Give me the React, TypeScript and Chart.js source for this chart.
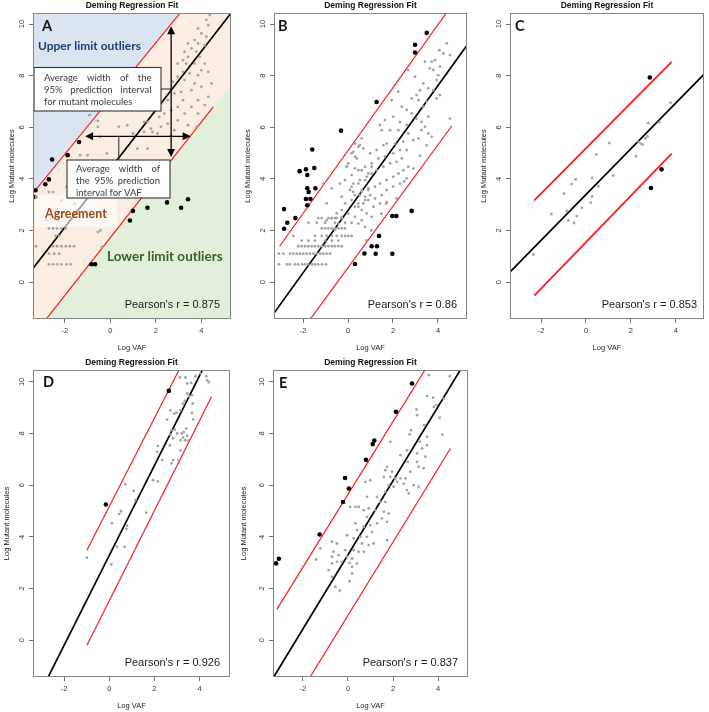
import React, { useEffect, useRef } from 'react';
import { Chart, registerables } from 'chart.js';
Chart.register(...registerables);

type Pt = [number, number];

const xTicks = [-2, 0, 2, 4];
const yTicks = [0, 2, 4, 6, 8, 10];
const chartTitle = 'Deming Regression Fit';
const xLabel = 'Log VAF';
const yLabel = 'Log Mutant molecules';

// ---------- Panel A ----------
const aGrey: Pt[] = [
  [-2.7, 0.69], [-2.52, 0.69], [-2.34, 0.69], [-2.15, 0.69], [-1.93, 0.69], [-1.74, 0.69],
  [-2.7, 1.1], [-2.47, 1.1], [-2.25, 1.1],
  [-3.27, 1.39], [-2.52, 1.39], [-2.34, 1.39], [-2.15, 1.39], [-1.96, 1.39], [-1.78, 1.39], [-1.6, 1.39],
  [-2.4, 1.79], [-2.25, 1.79],
  [-2.7, 2.08], [-2.52, 2.08], [-2.34, 2.08], [-2.15, 2.08], [-1.97, 2.08],
  [-2.81, 2.4], [-2.3, 2.4], [-2.56, 2.77], [-2.38, 2.77], [-2.7, 3.49], [-2.52, 3.49],
  [-1.33, 4.92], [-1.0, 4.92], [-0.81, 3.75], [-0.59, 4.59], [-0.44, 5.63], [-0.15, 4.98], [-0.55, 6.02],
  [-0.55, 6.25], [-0.92, 6.47], [0.15, 4.2], [0.74, 6.08], [1.0, 5.76], [1.19, 5.17], [1.48, 6.21],
  [1.63, 5.17], [1.85, 5.82], [-1.19, 4.14], [-1.04, 3.3], [-1.56, 3.04], [-0.44, 2.0], [-0.55, 1.94],
  [-0.37, 1.36], [-1.93, 3.69], [-2.15, 3.17], [-1.19, 3.69],
  [4.37, 10.35], [4.22, 10.16], [4.3, 9.96], [3.85, 9.83], [4.0, 9.64], [4.22, 9.51], [3.7, 9.38],
  [3.41, 9.25], [3.85, 9.25], [4.15, 9.18], [3.56, 9.06], [3.26, 8.93], [3.78, 8.93], [3.93, 8.73],
  [3.41, 8.73], [3.19, 8.6], [2.96, 8.47], [3.33, 8.47], [3.7, 8.47], [4.15, 8.47], [4.0, 8.21],
  [4.3, 8.15], [3.85, 8.02], [3.48, 8.09], [3.19, 8.15], [2.96, 7.96], [3.26, 7.83], [2.74, 7.76],
  [3.7, 7.7], [4.0, 7.57], [4.44, 7.7], [3.56, 7.44], [3.11, 7.37], [2.81, 7.31], [2.52, 7.05],
  [3.19, 7.05], [3.85, 7.05], [3.56, 6.79], [4.15, 6.86], [4.3, 7.18], [2.96, 6.79], [2.67, 6.66],
  [2.37, 6.53], [3.26, 6.53], [3.85, 6.53], [2.15, 6.4], [2.96, 6.27], [2.52, 6.14], [2.22, 6.02],
  [1.78, 5.95], [3.41, 6.08], [2.81, 5.89], [3.78, 6.02], [1.48, 5.82], [2.07, 5.76], [2.67, 5.69],
  [0.37, 6.02], [1.63, 6.21], [1.33, 6.66],
];
const aBlack: Pt[] = [
  [-3.29, 3.56], [-3.29, 3.3], [-2.86, 3.79], [-2.7, 3.98], [-2.56, 4.75], [-1.88, 4.92], [-1.38, 5.43],
  [-0.84, 0.69], [-0.67, 0.69], [0.86, 2.39], [0.99, 2.76], [1.63, 2.88], [2.49, 3.09], [3.11, 2.88], [3.41, 3.21],
];
const aFit: Pt[] = [[-4, -0.15], [6, 11.22]];
const aUpper: Pt[] = [[-4, 2.8], [4, 11.44]];
const aLower: Pt[] = [[-2.95, -1.58], [4.52, 6.79]];
const aBandUpper: Pt[] = [[-4, 2.8], [6, 13.6]];
const aBandLower: Pt[] = [[-4, -2.75], [6, 8.45]];
const aArrowV: Pt[] = [[2.67, 4.85], [2.67, 9.92]];
const aArrowH: Pt[] = [[-1.11, 5.65], [3.53, 5.65]];
const aConnectorX = 0.37;

// ---------- Panel B ----------
const bGrey: Pt[] = [
  [-3.07, 0.69], [-2.71, 0.69], [-2.58, 0.69], [-2.36, 0.69], [-2.22, 0.69], [-2.04, 0.69], [-1.91, 0.69],
  [-1.78, 0.69], [-1.6, 0.69], [-1.47, 0.69], [-1.33, 0.69], [-1.16, 0.69], [-0.98, 0.69],
  [-3.07, 1.1], [-2.87, 1.1], [-2.58, 1.1], [-2.43, 1.1], [-2.28, 1.1], [-2.13, 1.1], [-1.99, 1.1], [-1.84, 1.1],
  [-1.69, 1.1], [-1.54, 1.1], [-1.39, 1.1], [-1.24, 1.1], [-1.1, 1.1], [-0.95, 1.1], [-0.8, 1.1],
  [-2.21, 1.39], [-2.06, 1.39], [-1.91, 1.39], [-1.76, 1.39], [-1.61, 1.39], [-1.47, 1.39], [-1.32, 1.39],
  [-1.17, 1.39], [-1.02, 1.39], [-0.87, 1.39], [-0.72, 1.39], [-0.58, 1.39], [-0.43, 1.39], [-0.28, 1.39],
  [-2.06, 1.61], [-1.76, 1.61], [-1.47, 1.61], [-1.02, 1.61], [-0.72, 1.61], [-0.43, 1.61],
  [-2.43, 1.79], [-1.47, 1.79], [-1.17, 1.79], [-0.95, 1.79], [-0.72, 1.79], [-0.5, 1.79], [-0.28, 1.79],
  [-0.13, 1.79], [0.01, 1.79], [0.16, 1.79],
  [-1.17, 2.08], [-1.02, 2.08], [-0.87, 2.08], [-0.72, 2.08], [-0.58, 2.08], [-0.43, 2.08], [-0.28, 2.08], [-0.13, 2.08],
  [-1.76, 2.3], [-1.39, 2.3], [-1.02, 2.3], [-0.58, 2.3], [-0.13, 2.3], [0.16, 2.3],
  [-1.32, 2.48], [-1.17, 2.48], [-0.87, 2.48], [-0.72, 2.48], [-0.58, 2.48], [-0.5, 2.48], [-0.28, 2.48],
  [0.31, 5.37], [0.53, 5.31], [0.68, 5.18], [0.16, 4.99], [0.39, 4.79], [0.01, 4.6], [-0.06, 4.47],
  [0.31, 4.41], [0.61, 4.34], [0.9, 4.21], [1.05, 4.47], [0.76, 3.95], [0.46, 3.82], [0.16, 3.7],
  [0.24, 3.5], [0.61, 3.57], [0.9, 3.63], [0.98, 3.37], [0.76, 3.18], [0.46, 3.05], [0.31, 2.92],
  [0.16, 3.18], [-0.13, 3.05], [-0.28, 2.79], [0.01, 2.66], [0.31, 2.53], [0.61, 2.79], [0.83, 2.66],
  [1.05, 2.53], [0.61, 2.4], [0.46, 2.27], [0.76, 2.14], [-0.28, 2.53], [-0.43, 2.27], [-0.58, 2.02],
  [-0.95, 3.05], [-0.73, 3.63], [-0.28, 3.31], [-1.1, 3.82], [-0.36, 3.82], [-0.13, 3.95], [-0.5, 2.66],
  [-0.73, 2.47], [-0.95, 2.4],
  [4.39, 9.25], [4.06, 8.99], [4.24, 8.86], [4.53, 8.8], [3.72, 8.54], [3.87, 8.6], [3.42, 8.54],
  [3.64, 8.28], [3.79, 8.22], [4.09, 8.35], [4.01, 8.02], [3.94, 7.83], [3.35, 7.7], [3.57, 7.51],
  [3.2, 7.44], [3.05, 7.25], [3.79, 7.44], [4.09, 7.25], [3.94, 7.12], [3.5, 6.99], [3.35, 6.8],
  [3.13, 7.05], [2.83, 7.12], [2.68, 8.22], [2.98, 7.96], [2.24, 7.38], [1.94, 7.05], [2.39, 6.8],
  [2.61, 6.67], [2.83, 6.54], [3.05, 6.34], [3.27, 6.21], [3.57, 6.41], [4.53, 6.34], [3.42, 6.02],
  [3.27, 5.89], [3.57, 5.76], [3.72, 5.63], [3.13, 5.57], [2.9, 5.5], [2.61, 6.09], [2.31, 6.21],
  [2.01, 6.41], [1.64, 6.28], [1.42, 6.09], [1.5, 5.89], [1.87, 5.89], [2.24, 5.89], [2.68, 5.76],
  [2.46, 5.44], [2.09, 5.37], [1.72, 5.37], [1.57, 5.31], [1.27, 5.12], [0.98, 4.99], [0.61, 5.57],
  [0.46, 5.25], [0.24, 5.05], [0.31, 4.86], [-0.06, 4.47], [0.16, 4.15], [0.46, 4.34], [0.76, 4.47],
  [1.05, 4.6], [1.35, 4.79], [1.64, 4.86], [2.01, 4.99], [2.31, 5.12], [2.61, 5.12], [2.39, 4.79],
  [2.16, 4.66], [1.87, 4.6], [1.57, 4.47], [1.27, 4.34], [1.05, 4.21], [0.83, 4.08], [0.53, 3.95],
  [0.24, 3.82], [0.09, 3.57], [0.31, 3.37], [0.61, 3.5], [0.9, 3.57], [1.2, 3.7], [1.42, 3.82],
  [1.72, 3.95], [2.01, 4.08], [2.24, 4.21], [2.46, 4.34], [2.68, 4.47], [2.61, 4.02], [2.31, 3.82],
  [2.01, 3.7], [1.72, 3.57], [1.5, 3.37], [1.2, 3.24], [0.9, 3.18], [0.68, 3.05], [0.46, 2.92],
  [1.13, 2.92], [1.42, 3.05], [1.72, 3.11], [2.16, 3.24], [0.76, 3.31], [0.53, 3.37],
  [0.81, 1.62], [1.04, 2.0], [1.48, 2.65], [1.7, 3.04], [2.5, 3.9], [2.9, 4.4], [3.2, 4.9], [3.5, 5.3],
];
const bBlack: Pt[] = [
  [-2.84, 2.83], [-2.84, 2.07], [-2.7, 2.3], [-2.34, 2.48], [-2.15, 4.3], [-1.87, 4.37], [-1.81, 4.15],
  [-1.81, 3.64], [-1.75, 3.49], [-1.87, 3.22], [-1.67, 3.22], [-1.81, 2.98], [-1.59, 5.14], [-1.5, 4.42],
  [-1.45, 3.64], [-0.31, 5.87], [1.27, 6.98], [2.98, 9.2], [2.98, 8.9], [3.5, 9.66],
  [0.31, 0.7], [0.73, 1.11], [1.05, 1.39], [1.29, 1.39], [1.23, 1.1], [1.38, 1.79], [1.97, 2.56],
  [2.15, 2.56], [1.97, 1.1], [2.83, 2.76],
];
const bFit: Pt[] = [[-4, -2.06], [6, 10.04]];
const bUpper: Pt[] = [[-3.04, 1.39], [5, 11.2]];
const bLower: Pt[] = [[-2, -1.82], [4.62, 6.06]];

// ---------- Panel C ----------
const cGrey: Pt[] = [
  [-2.34, 1.07], [-1.54, 2.64], [-0.98, 3.43], [-0.86, 2.76], [-0.79, 2.39], [-0.64, 3.8], [-0.53, 2.29],
  [-0.46, 3.98], [-0.41, 2.56], [-0.18, 2.88], [0.21, 3.08], [0.27, 3.32], [0.27, 4.04], [0.46, 4.94],
  [0.55, 3.71], [1.04, 5.39], [1.21, 4.13], [2.22, 4.88], [2.34, 5.43], [2.44, 5.37], [2.52, 5.33],
  [2.65, 5.58], [2.74, 5.65], [2.77, 6.16], [3.26, 6.2], [3.76, 6.95],
];
const cBlack: Pt[] = [[2.84, 7.93], [2.89, 3.65], [3.36, 4.37]];
const cFit: Pt[] = [[-4, -0.16], [6, 8.72]];
const cUpper: Pt[] = [[-2.3, 3.17], [3.81, 8.54]];
const cLower: Pt[] = [[-2.3, -0.52], [3.81, 4.98]];

// ---------- Panel D ----------
const dGrey: Pt[] = [
  [-0.99, 3.19], [0.09, 2.93], [0.34, 3.61], [0.68, 3.61], [0.12, 4.52], [0.44, 4.88], [0.52, 4.99],
  [0.71, 6.03], [0.76, 4.3], [0.79, 4.43], [1.08, 5.78], [1.16, 5.42], [1.64, 4.94], [1.94, 6.19],
  [2.15, 6.15], [2.15, 7.52], [2.12, 7.29], [2.34, 6.97], [2.56, 8.54], [2.71, 8.9], [2.76, 8.13],
  [2.83, 7.81], [2.83, 6.97], [2.89, 8.77], [2.98, 8.81], [3.16, 8.9], [3.27, 9.16], [3.35, 9.26],
  [3.45, 9.55], [3.53, 9.45], [3.63, 9.96], [3.45, 9.94], [3.13, 10.17], [3.38, 10.17], [3.82, 10.22],
  [4.04, 10.32], [4.3, 10.22], [4.41, 9.99], [4.34, 10.06], [3.16, 7.35], [3.21, 8.0], [3.27, 7.85],
  [3.3, 8.06], [3.36, 7.74], [3.41, 8.19], [3.45, 7.91], [3.5, 7.72], [3.72, 8.54], [3.66, 8.8],
  [3.16, 7.74], [3.08, 6.97], [2.76, 6.84], [2.9, 8.15], [3.66, 9.48], [3.7, 9.16], [3.01, 8.0],
  [2.71, 7.96], [2.68, 7.54],
];
const dBlack: Pt[] = [[-0.15, 5.25], [2.64, 9.65]];
const dFit: Pt[] = [[-3, -1.94], [5, 11.98]];
const dUpper: Pt[] = [[-0.99, 3.48], [3.3, 10.82]];
const dLower: Pt[] = [[-0.99, -0.2], [4.53, 9.42]];

// ---------- Panel E ----------
const eGrey: Pt[] = [
  [3.59, 10.26], [4.52, 10.22], [3.51, 9.45], [3.78, 9.39], [4.25, 9.35], [3.93, 9.1], [3.81, 9.03],
  [3.04, 8.93], [3.07, 8.71], [4.07, 8.61], [3.39, 8.32], [2.8, 8.13], [2.74, 7.97], [4.19, 7.96],
  [3.51, 7.87], [3.19, 7.68], [1.88, 7.68], [3.51, 7.55], [2.62, 7.35], [3.29, 7.42], [3.07, 7.23],
  [2.33, 7.16], [3.44, 7.1], [2.65, 6.9], [3.07, 6.9], [3.14, 6.71], [2.77, 6.52], [3.36, 6.65],
  [1.73, 6.71], [1.66, 6.58], [1.96, 6.52], [0.99, 6.19], [1.59, 6.32], [1.88, 6.32], [2.1, 6.26],
  [2.33, 6.26], [2.55, 6.26], [2.18, 6.13], [2.92, 6.0], [3.14, 5.94], [2.47, 6.06], [2.62, 5.81],
  [2.7, 5.68], [0.77, 6.13], [0.84, 5.55], [1.29, 5.55], [1.66, 5.74], [1.81, 6.0], [2.03, 5.94],
  [1.44, 5.35], [1.66, 5.35], [0.1, 5.16], [0.33, 5.16], [0.47, 5.16], [0.92, 5.1], [1.21, 5.03],
  [1.59, 4.97], [1.81, 4.9], [1.51, 4.71], [1.73, 4.58], [0.84, 4.77], [0.7, 5.03], [0.33, 4.52],
  [0.4, 4.26], [0.25, 3.94], [0.7, 4.39], [0.99, 4.45], [1.29, 4.52], [1.07, 4.19], [0.84, 4.0],
  [0.55, 4.0], [-0.04, 4.06], [0.62, 3.74], [0.92, 3.68], [1.14, 3.74], [0.25, 3.48], [0.47, 3.42],
  [0.7, 3.42], [0.18, 3.16], [-0.12, 3.48], [-0.49, 3.74], [-0.71, 3.81], [-0.64, 3.42], [-0.41, 3.29],
  [-0.27, 3.03], [-0.04, 3.23], [-1.23, 3.55], [-0.71, 3.23], [-0.49, 3.03], [-0.71, 2.97], [0.4, 2.97],
  [0.18, 2.84], [1.73, 3.87], [0.07, 2.99], [-1.41, 3.12], [-0.56, 2.06], [-0.37, 1.91], [0.07, 2.28],
  [0.18, 2.58], [-0.71, 2.45], [-0.86, 2.71],
];
const eBlack: Pt[] = [
  [-3.19, 2.97], [-3.07, 3.15], [-1.26, 4.09], [-0.22, 5.35], [-0.13, 6.28], [0.04, 5.87], [0.8, 6.98],
  [1.1, 7.59], [1.17, 7.73], [2.13, 8.84], [2.84, 9.94],
];
const eFit: Pt[] = [[-4, -2.44], [6, 11.91]];
const eUpper: Pt[] = [[-3.16, 1.19], [3.6, 10.72]];
const eLower: Pt[] = [[-1.8, -1.6], [4.55, 7.42]];

const FONT = "'Liberation Sans', Arial, Helvetica, sans-serif";
const ANN_FONT = "Lato, 'Open Sans', sans-serif";

interface PanelSpec {
  key: string;
  letter: string;
  letterX: number;
  letterY: number;
  r: string;
  rInset: number;
  grey: Pt[];
  black: Pt[];
  fit: Pt[];
  upper: Pt[];
  lower: Pt[];
  redWidth: number;
  xMin: number;
  xMax: number;
  yMin: number;
  yMax: number;
  left: number;
  top: number;
  w: number;
  h: number;
  plotLeft: number;
  padRight: number;
  xAxisH: number;
  xTitlePad: number;
  yTitleX: number;
  annotate?: boolean;
}

const panels: PanelSpec[] = [
  { key: 'A', letter: 'A', letterX: 9, letterY: 13, r: "Pearson's r = 0.875", rInset: 11, grey: aGrey, black: aBlack,
    fit: aFit, upper: aUpper, lower: aLower, redWidth: 1.2, xMin: -3.4, xMax: 5.3, yMin: -1.43, yMax: 10.43,
    left: 0, top: 0, w: 236, h: 356, plotLeft: 33, padRight: 5, xAxisH: 37, xTitlePad: 3.5, yTitleX: 12, annotate: true },
  { key: 'B', letter: 'B', letterX: 4, letterY: 13, r: "Pearson's r = 0.86", rInset: 10, grey: bGrey, black: bBlack,
    fit: bFit, upper: bUpper, lower: bLower, redWidth: 1.2, xMin: -3.29, xMax: 5.29, yMin: -1.43, yMax: 10.43,
    left: 236, top: 0, w: 236, h: 356, plotLeft: 38, padRight: 5, xAxisH: 37, xTitlePad: 3.5, yTitleX: 12 },
  { key: 'C', letter: 'C', letterX: 5, letterY: 13, r: "Pearson's r = 0.853", rInset: 7, grey: cGrey, black: cBlack,
    fit: cFit, upper: cUpper, lower: cLower, redWidth: 1.8, xMin: -3.38, xMax: 5.25, yMin: -1.43, yMax: 10.43,
    left: 472, top: 0, w: 237, h: 356, plotLeft: 38, padRight: 5, xAxisH: 37, xTitlePad: 3.5, yTitleX: 12 },
  { key: 'D', letter: 'D', letterX: 10, letterY: 12, r: "Pearson's r = 0.926", rInset: 10, grey: dGrey, black: dBlack,
    fit: dFit, upper: dUpper, lower: dLower, redWidth: 1.2, xMin: -3.38, xMax: 5.35, yMin: -1.43, yMax: 10.46,
    left: 0, top: 357, w: 236, h: 355, plotLeft: 33, padRight: 6, xAxisH: 35, xTitlePad: 1.5, yTitleX: 7 },
  { key: 'E', letter: 'E', letterX: 6, letterY: 13, r: "Pearson's r = 0.837", rInset: 10, grey: eGrey, black: eBlack,
    fit: eFit, upper: eUpper, lower: eLower, redWidth: 1.2, xMin: -3.33, xMax: 5.33, yMin: -1.43, yMax: 10.46,
    left: 236, top: 357, w: 236, h: 355, plotLeft: 37, padRight: 4, xAxisH: 35, xTitlePad: 1.5, yTitleX: 8 },
];

const xy = (a: Pt[]) => a.map(([x, y]) => ({ x, y }));

function arrow(ctx: CanvasRenderingContext2D, x1: number, y1: number, x2: number, y2: number) {
  const ang = Math.atan2(y2 - y1, x2 - x1);
  const hl = 8, hw = 4;
  const ux = Math.cos(ang), uy = Math.sin(ang);
  ctx.beginPath();
  ctx.moveTo(x1 + ux * hl * 0.8, y1 + uy * hl * 0.8);
  ctx.lineTo(x2 - ux * hl * 0.8, y2 - uy * hl * 0.8);
  ctx.stroke();
  const head = (tx: number, ty: number, dx: number, dy: number) => {
    ctx.beginPath();
    ctx.moveTo(tx, ty);
    ctx.lineTo(tx - dx * hl - dy * hw, ty - dy * hl + dx * hw);
    ctx.lineTo(tx - dx * hl + dy * hw, ty - dy * hl - dx * hw);
    ctx.closePath();
    ctx.fill();
  };
  head(x2, y2, ux, uy);
  head(x1, y1, -ux, -uy);
}

function justified(ctx: CanvasRenderingContext2D, text: string, x0: number, x1: number, y: number, last: boolean) {
  ctx.textAlign = 'left';
  const words = text.split(' ');
  if (last || words.length < 2) {
    ctx.fillText(text, x0, y);
    return;
  }
  const widths = words.map((w) => ctx.measureText(w).width);
  const total = widths.reduce((s, v) => s + v, 0);
  const gap = (x1 - x0 - total) / (words.length - 1);
  let x = x0;
  words.forEach((w, i) => {
    ctx.fillText(w, x, y);
    x += widths[i] + gap;
  });
}

function drawAnnotA(chart: any) {
  const { ctx, chartArea: ca, scales } = chart;
  const X = (v: number) => scales.x.getPixelForValue(v);
  const Y = (v: number) => scales.y.getPixelForValue(v);
  const L = ca.left, T = ca.top;
  ctx.save();
  ctx.beginPath();
  ctx.rect(ca.left, ca.top, ca.right - ca.left, ca.bottom - ca.top);
  ctx.clip();
  ctx.textBaseline = 'middle';

  // Agreement label with translucent backdrop
  ctx.fillStyle = 'rgba(255,255,255,0.6)';
  ctx.fillRect(L + 2, T + 182, 82, 32);
  ctx.fillStyle = '#974a18';
  ctx.font = `bold 12.5px ${ANN_FONT}`;
  ctx.textAlign = 'left';
  ctx.fillText('Agreement', L + 12, T + 201);

  ctx.fillStyle = '#1f3b73';
  ctx.font = `bold 12px ${ANN_FONT}`;
  ctx.fillText('Upper limit outliers', L + 5, T + 33);

  ctx.fillStyle = '#3a5f24';
  ctx.font = `bold 13.5px ${ANN_FONT}`;
  ctx.fillText('Lower limit outliers', L + 74, T + 244);

  // arrows
  ctx.strokeStyle = '#000';
  ctx.fillStyle = '#000';
  ctx.lineWidth = 1.3;
  arrow(ctx, X(aArrowV[0][0]), Y(aArrowV[0][1]), X(aArrowV[1][0]), Y(aArrowV[1][1]));
  arrow(ctx, X(aArrowH[0][0]), Y(aArrowH[0][1]), X(aArrowH[1][0]), Y(aArrowH[1][1]));

  // connectors
  ctx.lineWidth = 1;
  ctx.strokeStyle = '#222';
  ctx.beginPath();
  ctx.moveTo(L + 128, T + 76);
  ctx.lineTo(X(aArrowV[0][0]), T + 76);
  ctx.moveTo(X(aConnectorX), Y(aArrowH[0][1]));
  ctx.lineTo(X(aConnectorX), T + 147);
  ctx.stroke();

  // text boxes
  const box = (bx: number, by: number, bw: number, bh: number, lines: string[], tx0: number, tx1: number, ty0: number) => {
    ctx.fillStyle = '#fff';
    ctx.fillRect(bx, by, bw, bh);
    ctx.strokeStyle = '#333';
    ctx.lineWidth = 1.1;
    ctx.strokeRect(bx, by, bw, bh);
    ctx.fillStyle = '#3a3a3a';
    ctx.font = `9.5px ${ANN_FONT}`;
    lines.forEach((ln, i) => justified(ctx, ln, tx0, tx1, ty0 + i * 12.3, i === lines.length - 1));
  };
  box(L + 1, T + 54.5, 127, 43.5, ['Average width of the', '95% prediction interval', 'for mutant molecules'], L + 11, L + 118.5, T + 64.7);
  box(L + 34, T + 147, 103, 38, ['Average width of', 'the 95% prediction', 'interval for VAF'], L + 43, L + 127, T + 155.5);
  ctx.restore();
}

function buildConfig(s: PanelSpec): any {
  const datasets: any[] = [];
  if (s.annotate) {
    datasets.push(
      { type: 'line', data: xy(aBandUpper), fill: 'end', backgroundColor: '#dbe5f2', borderColor: 'rgba(0,0,0,0)', borderWidth: 0, pointRadius: 0, order: 30 },
      { type: 'line', data: xy(aBandUpper), fill: '+1', backgroundColor: '#fcede3', borderColor: 'rgba(0,0,0,0)', borderWidth: 0, pointRadius: 0, order: 29 },
      { type: 'line', data: xy(aBandLower), fill: 'start', backgroundColor: '#e2efda', borderColor: 'rgba(0,0,0,0)', borderWidth: 0, pointRadius: 0, order: 28 },
    );
  }
  datasets.push(
    { type: 'line', data: xy(s.upper), borderColor: '#ff1a1a', borderWidth: s.redWidth, pointRadius: 0, fill: false, tension: 0, order: 6 },
    { type: 'line', data: xy(s.lower), borderColor: '#ff1a1a', borderWidth: s.redWidth, pointRadius: 0, fill: false, tension: 0, order: 6 },
    { type: 'line', data: xy(s.fit), borderColor: '#000', borderWidth: 1.7, pointRadius: 0, fill: false, tension: 0, order: 5 },
    { type: 'scatter', data: xy(s.grey), backgroundColor: '#a3a3a3', borderWidth: 0, pointRadius: 1.4, order: 3 },
    { type: 'scatter', data: xy(s.black), backgroundColor: '#000', borderWidth: 0, pointRadius: 2.3, order: 1 },
  );

  const grid = { display: true, drawOnChartArea: false, drawTicks: true, tickLength: 4, color: '#707070', lineWidth: 1 };

  const decor = {
    id: 'decor' + s.key,
    afterDatasetsDraw(chart: any) {
      if (s.annotate) drawAnnotA(chart);
    },
    afterDraw(chart: any) {
      const { ctx, chartArea: ca, scales } = chart;
      ctx.save();
      // plot box
      ctx.strokeStyle = '#858585';
      ctx.lineWidth = 1;
      ctx.strokeRect(Math.round(ca.left) + 0.5, Math.round(ca.top) + 0.5, Math.round(ca.right - ca.left) - 1, Math.round(ca.bottom - ca.top) - 1);
      // rotated y tick labels (R style)
      ctx.fillStyle = '#333';
      ctx.font = `7.5px ${FONT}`;
      ctx.textAlign = 'center';
      ctx.textBaseline = 'middle';
      yTicks.forEach((v) => {
        const py = scales.y.getPixelForValue(v);
        ctx.save();
        ctx.translate(ca.left - 11, py);
        ctx.rotate(-Math.PI / 2);
        ctx.fillText(String(v), 0, 0);
        ctx.restore();
      });
      // panel letter
      ctx.fillStyle = '#111';
      ctx.font = `bold 14.5px ${ANN_FONT}`;
      ctx.textAlign = 'left';
      ctx.fillText(s.letter, ca.left + s.letterX, ca.top + s.letterY);
      // Pearson's r
      ctx.fillStyle = '#1a1a1a';
      ctx.font = `11px ${FONT}`;
      ctx.textAlign = 'right';
      ctx.fillText(s.r, ca.right - s.rInset, ca.bottom - 14);
      ctx.restore();
    },
  };

  return {
    type: 'scatter',
    data: { datasets },
    options: {
      animation: false,
      responsive: false,
      devicePixelRatio: 1,
      events: [],
      layout: { padding: { left: 0, right: s.padRight, top: 0, bottom: 0 } },
      plugins: {
        legend: { display: false },
        tooltip: { enabled: false },
        title: {
          display: true,
          text: chartTitle,
          fullSize: false,
          color: '#111',
          font: { family: FONT, size: 8.5, weight: 'bold', lineHeight: 1.2 },
          padding: { top: 1, bottom: 1.8 },
        },
      },
      scales: {
        x: {
          type: 'linear',
          min: s.xMin,
          max: s.xMax,
          afterBuildTicks: (sc: any) => { sc.ticks = xTicks.map((v) => ({ value: v })); },
          afterFit: (sc: any) => { sc.height = s.xAxisH; },
          grid,
          border: { display: false },
          ticks: { autoSkip: false, maxRotation: 0, minRotation: 0, padding: 3, color: '#333', font: { family: FONT, size: 7.5 } },
          title: { display: true, text: xLabel, color: '#222', font: { family: FONT, size: 7.5, lineHeight: 1.2 }, padding: { top: 0, bottom: s.xTitlePad } },
        },
        y: {
          type: 'linear',
          min: s.yMin,
          max: s.yMax,
          afterBuildTicks: (sc: any) => { sc.ticks = yTicks.map((v) => ({ value: v })); },
          afterFit: (sc: any) => { sc.width = s.plotLeft; },
          grid,
          border: { display: false },
          ticks: { display: false },
          title: { display: true, text: yLabel, color: '#222', font: { family: FONT, size: 7.5, lineHeight: 1 }, padding: { top: s.yTitleX - 3.75, bottom: 0 } },
        },
      },
    },
    plugins: [decor],
  };
}

function Panel({ spec }: { spec: PanelSpec }) {
  const ref = useRef<HTMLCanvasElement>(null);
  useEffect(() => {
    if (!ref.current) return;
    const chart = new Chart(ref.current, buildConfig(spec));
    return () => chart.destroy();
  }, [spec]);
  return (
    <canvas
      ref={ref}
      width={spec.w}
      height={spec.h}
      style={{ position: 'absolute', left: spec.left, top: spec.top, width: spec.w, height: spec.h }}
    />
  );
}

export default function App() {
  return (
    <div style={{ position: 'absolute', left: 0, top: 0, width: 709, height: 712, background: '#fff', overflow: 'hidden' }}>
      {panels.map((p) => (
        <Panel key={p.key} spec={p} />
      ))}
    </div>
  );
}
